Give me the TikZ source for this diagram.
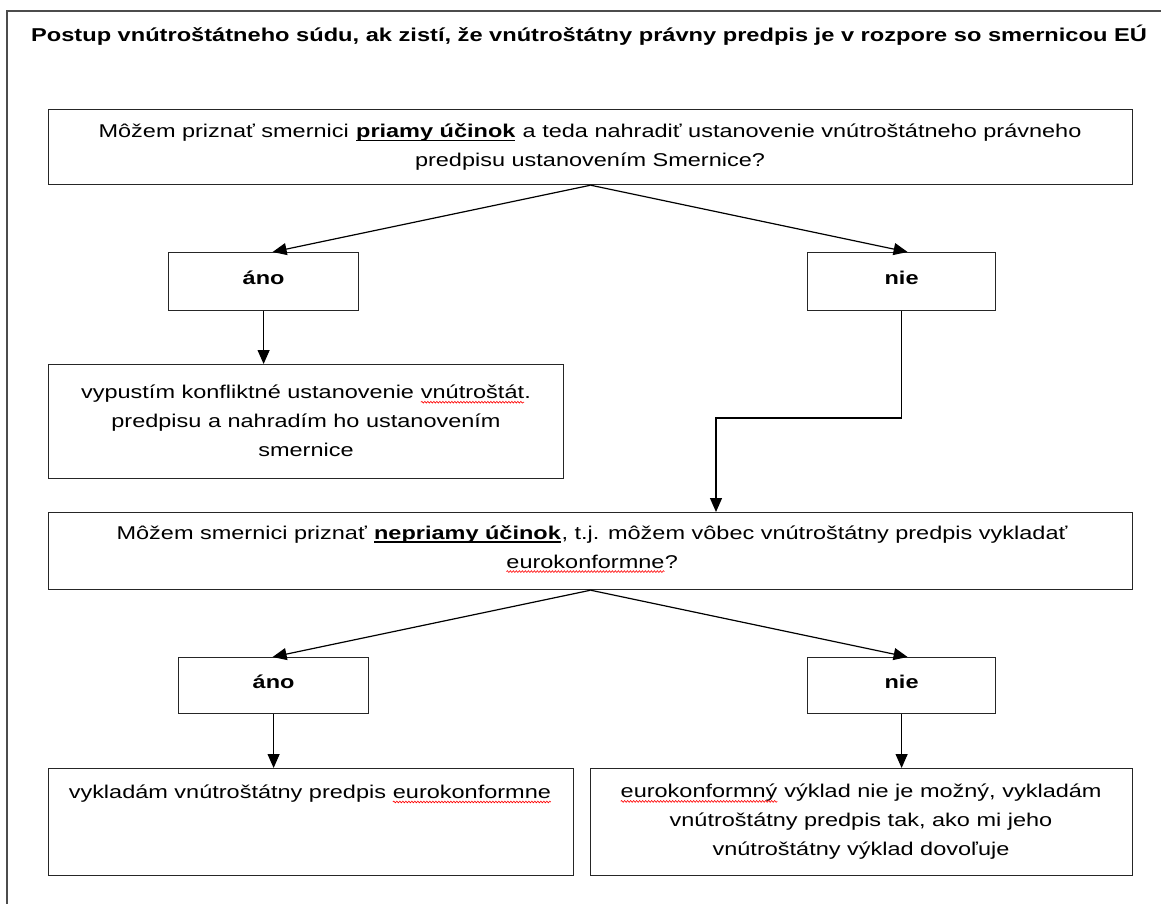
\documentclass[tikz,border=0pt]{standalone}
\usepackage{fontspec}
\setmainfont[FakeStretch=1.27]{Liberation Sans}
\usetikzlibrary{arrows.meta,decorations.pathmorphing}
\newcommand\redwave[1]{\tikz[baseline=(rw.base)]{\node[inner sep=0pt,outer sep=0pt] (rw) {#1};
  \draw[red, line width=0.6pt, decorate, decoration={snake, amplitude=0.9pt, segment length=3pt}]
    ([yshift=-3.5pt]rw.base west) -- ([yshift=-3.5pt]rw.base east);}}
\newcommand\ulbold[1]{\tikz[baseline=(ub.base)]{\node[inner sep=0pt,outer sep=0pt] (ub) {\bfseries #1};
  \draw[line width=1.4pt] ([yshift=-3pt]ub.base west) -- ([yshift=-3pt]ub.base east);}}
\begin{document}
\begin{tikzpicture}[x=1pt,y=-1pt,
  box/.style={draw=black!85, line width=1.2pt, inner sep=0pt, anchor=north west},
  txt/.style={inner sep=0pt, align=center, font=\fontsize{18.5}{29}\selectfont},
  lbl/.style={inner sep=0pt, font=\fontsize{18.5}{23}\selectfont\bfseries},
  arr/.style={draw=black, line width=1.2pt, -{Triangle[length=14pt,width=12pt]}}]
\useasboundingbox (0,0) rectangle (1161,904);
\fill[white] (0,0) rectangle (1161,904);
\draw[line width=1.5pt, black!70] (7,1000) -- (7,11) -- (1200,11);
\node[inner sep=0pt, font=\fontsize{18.6}{22}\selectfont\bfseries] (title) at (589,35)
  {Postup vnútroštátneho súdu, ak zistí, že vnútroštátny právny predpis je v rozpore so smernicou EÚ};
% boxes
\node[box, minimum width=1084pt, minimum height=75pt] (b1) at (48,109) {};
\node[box, minimum width=190pt, minimum height=58pt] (a1) at (168,252) {};
\node[box, minimum width=188pt, minimum height=58pt] (n1) at (807,252) {};
\node[box, minimum width=515pt, minimum height=114pt] (b2) at (48,364) {};
\node[box, minimum width=1084pt, minimum height=77pt] (b3) at (48,512) {};
\node[box, minimum width=190pt, minimum height=56pt] (a2) at (178,657) {};
\node[box, minimum width=188pt, minimum height=56pt] (n2) at (807,657) {};
\node[box, minimum width=525pt, minimum height=107pt] (b4) at (48,768) {};
\node[box, minimum width=542pt, minimum height=107pt] (b5) at (590,768) {};
% texts
\node[txt] (b1t) at (590,147)
  {Môžem priznať smernici \ulbold{priamy účinok} a teda nahradiť ustanovenie vnútroštátneho právneho\\
   predpisu ustanovením Smernice?};
\node[lbl] (a1t) at ([yshift=4pt]a1.center) {áno};
\node[lbl] (n1t) at ([yshift=4pt]n1.center) {nie};
\node[txt] (b2t) at (306,421)
  {vypustím konfliktné ustanovenie \redwave{vnútroštát}.\\
   predpisu a nahradím ho ustanovením\\
   smernice};
\node[txt] (b3t) at (592,549)
  {Môžem smernici priznať \ulbold{nepriamy účinok}, t.j. môžem vôbec vnútroštátny predpis vykladať\\
   \redwave{eurokonformne}?};
\node[lbl] (a2t) at ([yshift=4pt]a2.center) {áno};
\node[lbl] (n2t) at ([yshift=4pt]n2.center) {nie};
\node[txt] (b4t) at (310,794) {vykladám vnútroštátny predpis \redwave{eurokonformne}};
\node[txt] (b5t) at (861,822)
  {\redwave{eurokonformný} výklad nie je možný, vykladám\\
   vnútroštátny predpis tak, ako mi jeho\\
   vnútroštátny výklad dovoľuje};
% connectors
\coordinate (k1) at (716,418);
\draw[arr] (b1.south) -- ([xshift=9pt]a1.north);
\draw[arr] (b1.south) -- ([xshift=6pt]n1.north);
\draw[arr] (a1.south) -- (a1.south |- b2.north);
\draw[arr] (n1.south) |- (k1) -- (k1 |- b3.north);
\draw[arr] (b3.south) -- ([xshift=-1pt]a2.north);
\draw[arr] (b3.south) -- ([xshift=6pt]n2.north);
\draw[arr] (a2.south) -- (a2.south |- b4.north);
\draw[arr] (n2.south) -- (n2.south |- b5.north);
\end{tikzpicture}
\end{document}
